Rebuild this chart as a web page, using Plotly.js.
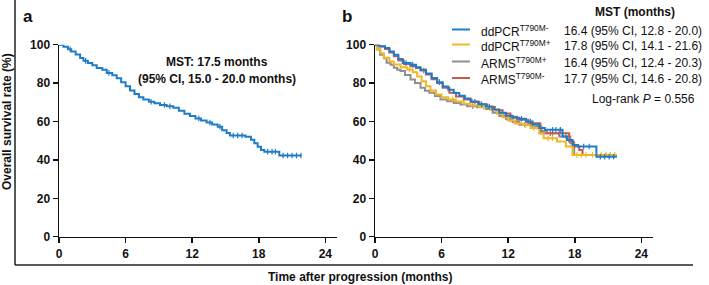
<!DOCTYPE html>
<html>
<head>
<meta charset="utf-8">
<script src="https://cdn.plot.ly/plotly-3.0.1.min.js"></script>
<style>html,body{margin:0;padding:0;background:#fff;}#chart{width:709px;height:285px;}</style>
</head>
<body>
<div id="chart"></div>
<script>
// ---------- DATA ----------
// Panel a: overall cohort KM curve (months, survival %)
const allTime = [0, 0.4, 0.8, 1.1, 1.5, 1.9, 2.2, 2.6, 3.0, 3.4, 3.9, 4.3, 4.8, 5.2, 5.6, 6.0, 6.4, 6.8, 7.2, 7.6, 8.1, 8.6, 9.1, 9.7, 10.3, 10.8, 11.3, 11.8, 12.3, 12.8, 13.3, 13.8, 14.3, 14.7, 15.1, 15.4, 16.8, 17.3, 17.6, 17.9, 18.2, 18.5, 19.85, 21.85];
const allSurv = [100, 98.9, 97.6, 96.4, 94.9, 93.1, 91.6, 90.5, 89.3, 87.8, 86.9, 85.3, 84.1, 82.5, 80.4, 78.3, 76.2, 74.3, 72.6, 71.4, 70.3, 69.5, 68.6, 67.9, 67.2, 65.6, 64.1, 62.8, 61.6, 60.5, 59.5, 58.5, 57.3, 55.5, 54.0, 52.7, 52.1, 50.5, 48.7, 46.9, 45.2, 44.3, 42.3, 42.3];
const allCensor = [1.0, 2.4, 4.5, 8.3, 9.5, 10.0, 12.6, 13.6, 14.5, 15.7, 16.1, 16.5, 18.8, 19.2, 19.5, 20.2, 20.6, 21.0, 21.4, 21.8];

// Panel b: four groups
const ddNegTime = [0, 0.4, 0.9, 1.3, 1.7, 2.1, 2.5, 3.2, 3.7, 4.1, 4.6, 5.1, 5.6, 6.1, 6.6, 7.1, 7.6, 8.1, 8.6, 9.3, 10.0, 10.6, 11.2, 11.8, 12.4, 13.0, 13.6, 14.2, 14.8, 15.3, 16.9, 17.3, 17.8, 18.3, 19.95, 21.8];
const ddNegSurv = [100, 99.2, 98.3, 96.5, 94.8, 92.5, 90.5, 89.6, 88.3, 87.0, 85.0, 82.6, 80.5, 78.2, 76.5, 74.8, 73.4, 72.0, 70.4, 69.0, 67.8, 66.3, 64.6, 63.0, 62.0, 61.4, 60.0, 58.4, 56.6, 55.7, 52.2, 50.4, 47.8, 47.0, 41.7, 41.7];
const ddNegCensor = [2.8, 3.4, 5.8, 9.6, 10.3, 13.2, 14.0, 16.0, 16.3, 16.7, 18.8, 19.3, 20.3, 20.7, 21.1, 21.5];

const ddPosTime = [0, 0.15, 0.5, 0.8, 1.3, 1.7, 2.3, 2.9, 3.4, 3.8, 4.2, 4.6, 5.0, 5.5, 6.0, 6.6, 7.3, 8.0, 8.6, 9.4, 10.4, 11.0, 11.5, 12.0, 12.6, 13.3, 14.0, 14.8, 15.2, 16.4, 17.2, 17.8, 21.8];
const ddPosSurv = [100, 97.6, 95.6, 93.2, 91.3, 89.7, 88.3, 87.1, 85.6, 83.5, 81.0, 78.3, 76.2, 74.1, 72.6, 71.5, 70.4, 69.3, 68.3, 67.6, 66.0, 64.0, 62.2, 60.5, 59.0, 58.3, 56.6, 53.8, 51.3, 49.6, 47.0, 42.6, 42.6];
const ddPosCensor = [3.1, 7.0, 9.8, 13.6, 14.3, 15.6, 16.0, 18.2, 18.6, 19.0, 19.6, 20.4, 20.8, 21.2, 21.6];

const armsPosTime = [0, 0.2, 0.45, 0.8, 1.05, 1.4, 1.7, 2.0, 2.3, 2.7, 3.2, 3.6, 4.1, 4.5, 4.9, 5.4, 5.9, 6.5, 7.1, 7.7, 8.3, 9.2, 10.0, 10.6, 11.2, 11.8, 12.4, 13.0, 14.2, 15.0, 15.5, 16.6, 17.6, 17.95, 21.8];
const armsPosSurv = [100, 97.5, 94.8, 93.0, 90.6, 89.6, 88.0, 87.0, 86.3, 84.2, 81.9, 80.0, 77.6, 76.0, 75.0, 73.3, 71.5, 70.6, 69.7, 68.8, 68.0, 67.4, 66.5, 64.5, 62.8, 61.2, 59.8, 58.3, 57.4, 55.0, 53.9, 52.2, 48.7, 42.6, 42.6];
const armsPosCensor = [8.8, 12.2, 13.5, 14.6, 16.0, 17.2];

const armsNegTime = [0, 0.4, 0.9, 1.3, 1.7, 2.1, 2.6, 3.2, 3.7, 4.1, 4.6, 5.1, 5.6, 6.1, 6.7, 7.3, 8.0, 8.7, 9.4, 10.1, 10.8, 11.5, 12.2, 12.8, 13.8, 14.9, 17.5, 17.9, 18.4, 18.7, 21.8];
const armsNegSurv = [100, 99.0, 97.8, 96.0, 94.0, 91.8, 90.0, 88.8, 87.8, 86.5, 84.5, 82.0, 80.0, 77.6, 75.0, 73.0, 71.5, 70.2, 68.8, 67.5, 65.8, 64.2, 62.5, 60.9, 59.1, 53.9, 49.6, 47.0, 45.2, 42.6, 42.6];
const armsNegCensor = [4.4, 9.0, 15.8, 16.6];

const groupNames = ["ddPCR<sup>T790M-</sup>", "ddPCR<sup>T790M+</sup>", "ARMS<sup>T790M+</sup>", "ARMS<sup>T790M-</sup>"];
const groupMST = ["16.4 (95% CI, 12.8 - 20.0)", "17.8 (95% CI, 14.1 - 21.6)", "16.4 (95% CI, 12.4 - 20.3)", "17.7 (95% CI, 14.6 - 20.8)"];
const groupColors = ["#1f7cc6", "#f0b826", "#8f8f8f", "#c65a50"];
const xTicks = [0, 6, 12, 18, 24];
const yTicks = [0, 20, 40, 60, 80, 100];

// ---------- HELPERS ----------
const W = 709, H = 285;
const px = x => x / W;
const py = y => 1 - y / H;
function stepAt(T, S, t) {
  let v = S[0];
  for (let i = 0; i < T.length; i++) { if (T[i] <= t) v = S[i]; }
  return v;
}
function kmTraces(T, S, C, color, xa, ya) {
  return [
    {x: T, y: S, type: 'scatter', mode: 'lines', line: {shape: 'hv', color: color, width: 2},
     xaxis: xa, yaxis: ya, hoverinfo: 'skip', cliponaxis: false},
    {x: C, y: C.map(t => stepAt(T, S, t)), type: 'scatter', mode: 'markers',
     marker: {symbol: 'line-ns', size: 4, line: {color: color, width: 1.2}},
     xaxis: xa, yaxis: ya, hoverinfo: 'skip', cliponaxis: false}
  ];
}

const traces = [].concat(
  kmTraces(allTime, allSurv, allCensor, groupColors[0], 'x', 'y'),
  kmTraces(armsPosTime, armsPosSurv, armsPosCensor, groupColors[2], 'x2', 'y2'),
  kmTraces(armsNegTime, armsNegSurv, armsNegCensor, groupColors[3], 'x2', 'y2'),
  kmTraces(ddPosTime, ddPosSurv, ddPosCensor, groupColors[1], 'x2', 'y2'),
  kmTraces(ddNegTime, ddNegSurv, ddNegCensor, groupColors[0], 'x2', 'y2')
);

const tickFont = {family: 'Liberation Sans, Arial, sans-serif', size: 12, color: '#111', weight: 'bold'};
function xAxis(d) {
  return {domain: d, range: [0, 25.05], tickvals: xTicks, ticktext: xTicks.map(String),
    ticks: 'outside', ticklen: 5, tickwidth: 1.5, tickcolor: '#111',
    showline: true, linewidth: 1.5, linecolor: '#111', showgrid: false, zeroline: false,
    tickfont: tickFont, fixedrange: true};
}
function yAxis(d, anchor) {
  return {domain: d, range: [0, 100], tickvals: yTicks, ticktext: yTicks.map(String), anchor: anchor,
    ticks: 'outside', ticklen: 5, tickwidth: 1.5, tickcolor: '#111',
    showline: true, linewidth: 1.5, linecolor: '#111', showgrid: false, zeroline: false,
    tickfont: tickFont, fixedrange: true};
}
const yDom = [py(236.7), py(44.7)];

const bold = {family: 'Liberation Sans, Arial, sans-serif', size: 12, color: '#111', weight: 'bold'};
const reg = {family: 'Liberation Sans, Arial, sans-serif', size: 12, color: '#111'};
const annotations = [
  {text: 'a', x: px(28), y: py(17), font: Object.assign({}, bold, {size: 17})},
  {text: 'b', x: px(347), y: py(17), font: Object.assign({}, bold, {size: 17})},
  {text: 'MST: 17.5 months', x: px(217), y: py(62), font: bold},
  {text: '(95% CI, 15.0 - 20.0 months)', x: px(217), y: py(79), font: bold},
  {text: 'Overall survival rate (%)', x: px(7), y: py(122), textangle: -90, font: bold},
  {text: 'Time after progression (months)', x: px(360), y: py(277), font: bold},
  {text: 'MST (months)', x: px(635), y: py(12), font: bold},
  {text: 'Log-rank <i>P</i> = 0.556', x: px(697), y: py(99), xanchor: 'right', font: reg}
];
const legendRows = [29.5, 44.5, 61.5, 78];
const shapes = [
  {type: 'line', xref: 'paper', yref: 'paper', x0: px(15), x1: px(15), y0: 1, y1: py(265), line: {color: '#222', width: 1.5}},
  {type: 'line', xref: 'paper', yref: 'paper', x0: px(15), x1: px(693), y0: py(265), y1: py(265), line: {color: '#222', width: 1.5}}
];
groupNames.forEach((n, i) => {
  const yy = legendRows[i];
  shapes.push({type: 'line', xref: 'paper', yref: 'paper', x0: px(452), x1: px(470), y0: py(yy), y1: py(yy),
    line: {color: groupColors[i], width: 2}});
  annotations.push({text: n, x: px(479), y: py(yy + 1), xanchor: 'left', font: reg});
  annotations.push({text: groupMST[i], x: px(562), y: py(yy + 1), xanchor: 'left', font: reg});
});
annotations.forEach(a => {
  a.xref = 'paper'; a.yref = 'paper'; a.showarrow = false;
  if (!a.xanchor) a.xanchor = 'center';
  a.yanchor = 'middle';
});

const layout = {
  width: W, height: H, margin: {l: 0, r: 0, t: 0, b: 0},
  paper_bgcolor: '#fff', plot_bgcolor: 'rgba(0,0,0,0)', showlegend: false,
  xaxis: xAxis([px(59), px(337)]),
  yaxis: yAxis(yDom, 'x'),
  xaxis2: Object.assign(xAxis([px(375), px(653)]), {anchor: 'y2'}),
  yaxis2: yAxis(yDom, 'x2'),
  annotations: annotations, shapes: shapes
};
Plotly.newPlot('chart', traces, layout, {staticPlot: true, displayModeBar: false});
</script>
</body>
</html>
